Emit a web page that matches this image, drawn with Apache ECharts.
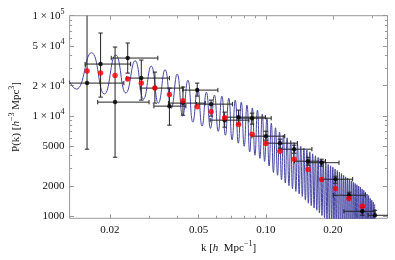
<!DOCTYPE html>
<html><head><meta charset="utf-8">
<script src="https://cdn.jsdelivr.net/npm/echarts@6/dist/echarts.min.js"></script>
<style>html,body{margin:0;padding:0;background:#fff}#c{width:395px;height:260px}</style>
</head><body><div id="c"></div>
<script>
// blue model curve: successive maxima / minima
const curveK = [0.01182,0.01417,0.01652,0.01887,0.02122,0.02357,0.02592,0.02827,0.03062,0.03297,
0.03532,0.03767,0.04002,0.04237,0.04472,0.04707,0.04942,0.05177,0.05412,0.05647,
0.05882,0.06117,0.06352,0.06587,0.06822,0.07057,0.07292,0.07527,0.07762,0.07997,
0.08232,0.08467,0.08702,0.08937,0.09172,0.09407,0.09642,0.09877,0.10112,0.10347,
0.10582,0.10817,0.11052,0.11287,0.11522,0.11757,0.11992,0.12227,0.12462,0.12697,
0.12932,0.13167,0.13402,0.13637,0.13872,0.14107,0.14342,0.14577,0.14812,0.15047,
0.15282,0.15517,0.15752,0.15987,0.16222,0.16457,0.16692,0.16927,0.17162,0.17397,
0.17632,0.17867,0.18102,0.18337,0.18572,0.18807,0.19042,0.19277,0.19512,0.19747,
0.19982,0.20217,0.20452,0.20687,0.20922,0.21157,0.21392,0.21627,0.21862,0.22097,
0.22332,0.22567,0.22802,0.23037,0.23272,0.23507,0.23742,0.23977,0.24212,0.24447,
0.24682,0.24917,0.25152,0.25387,0.25622,0.25857,0.26092,0.26327,0.26562,0.26797,
0.27032,0.27267,0.27502,0.27737,0.27972,0.28207,0.28442,0.28677,0.28912,0.29147,
0.29382,0.29617,0.29852,0.30087,0.30322,0.30557,0.30792];
const curveP = [44000,18500,42700,16500,40500,16900,35500,14700,31400,13400,
28900,11900,26100,9950,22700,8650,18900,7900,17200,7500,
16100,7000,15700,6400,15000,5750,14400,5330,13700,4970,
12800,4350,12000,4040,11400,3760,10400,3510,9550,3150,
8450,2720,7600,2550,6900,2300,6450,2140,6030,2010,
5650,1870,5400,1760,5200,1660,4960,1570,4750,1440,
4550,1340,4370,1270,4180,1200,3990,1140,3840,1070,
3660,1010,3520,960,3380,920,3270,890,3170,860,
3070,830,2950,790,2840,760,2740,730,2650,700,
2550,680,2460,660,2390,640,2310,630,2240,610,
2170,590,2110,575,2050,560,1990,540,1940,530,
1860,515,1800,500,1730,490,1660,475,1600,465,
1500,450,1440,440,1380,430,1310];

// black measurements with error bars
const blackK   = [0.01578,0.01815,0.02108,0.02402,0.02764,0.0318,0.03695,0.0425,0.04924,0.05682,0.06538,0.07542,0.08678,0.1002,0.1157,0.134,0.1546,0.1779,0.2053,0.2362,0.2709,0.3086];
const blackP   = [21230,32890,13710,37760,23820,18920,12500,13400,18070,13090,9057,9705,9484,6266,5333,4645,3524,3404,2328,1611,1114,1016];
const blackPLo = [4645,15380,3864,26730,14360,13400,8072,10160,15740,9931,7709,8260,8260,5715,4753,4236,3214,3141,2123,1503,1016,930];
const blackPHi = [120000,67140,48640,53330,36060,27350,18920,19360,21230,14360,10890,11400,10640,7031,5848,5093,3864,3690,2495,1726,1222,1140];
const blackKLo = [0.0128,0.01546,0.01762,0.02026,0.02378,0.02736,0.03148,0.03658,0.0425,0.0489,0.05626,0.06472,0.0752,0.0866,0.0995,0.1157,0.1344,0.1546,0.1779,0.2006,0.224,0.2876];
const blackKHi = [0.02308,0.02476,0.02994,0.03277,0.03695,0.0425,0.0438,0.05352,0.06094,0.07082,0.08396,0.09954,0.1057,0.1216,0.1385,0.161,0.1852,0.213,0.2452,0.2792,0.3086,0.36];

// red points
const redK = [0.01578,0.01815,0.02108,0.02402,0.02764,0.0318,0.03695,0.0425,0.04924,0.05682,0.06538,0.07542,0.08678,0.1002,0.1157,0.134,0.1546,0.1779,0.2053,0.2362,0.2709];
const redP = [27990,26730,25350,23280,21230,18920,16370,14130,12300,10960,9594,8204,6561,5297,4436,3690,2911,2317,1879,1493,1250];

// ticks
const xMajor = [0.02,0.05,0.1,0.2];
const xLabels = ['0.02','0.05','0.10','0.20'];
const xMinor = [0.03,0.04,0.06,0.07,0.08,0.09,0.3];
const yMajor = [1000,2000,5000,10000,20000,50000,100000];
const yLabels = ['1000','2000','5000','1 × 10^4','2 × 10^4','5 × 10^4','1 × 10^5'];
const yMinor = [3000,4000,6000,7000,8000,9000,30000,40000,60000,70000,80000,90000];

const L = Math.log10;
const xMin = L(0.01318), xMax = L(0.3514);
const yMin = L(948), yMax = L(100000);
const FONT = 'Liberation Serif';
const TXT = '#111';
const FRAME = '#999';

function richLabel(s){
  const p = s.split('^');
  return p.length > 1 ? '{n|' + p[0] + '}{s|' + p[1] + '}' : '{n|' + s + '}';
}
const labelRich = {
  n: {fontFamily: FONT, fontSize: 11, color: TXT, lineHeight: 16},
  s: {fontFamily: FONT, fontSize: 8, color: TXT, lineHeight: 8, verticalAlign: 'top'}
};

function axisBase(min, max, pos){
  return {type: 'value', min: min, max: max, position: pos,
    axisLine: {show: false, onZero: false}, splitLine: {show: false}};
}
function tickAxis(min, max, pos, vals, len){
  const a = axisBase(min, max, pos);
  a.axisTick = {show: true, inside: true, length: len, customValues: vals.map(L), lineStyle: {color: FRAME, width: 1}};
  a.axisLabel = {show: false};
  return a;
}

const xMain = tickAxis(xMin, xMax, 'bottom', xMajor, 4);
xMain.axisLabel = {show: true, margin: 6, customValues: xMajor.map(L),
  formatter: v => { const i = xMajor.findIndex(t => Math.abs(L(t) - v) < 1e-6); return i >= 0 ? xLabels[i] : ''; },
  fontFamily: FONT, fontSize: 11, color: TXT};
xMain.name = '{n|k [}{i|h}{n|  Mpc}{s|−1}{n|]}';
xMain.nameLocation = 'middle';
xMain.nameGap = 22;
xMain.nameTextStyle = {rich: {
  n: {fontFamily: FONT, fontSize: 11, color: TXT, lineHeight: 16},
  i: {fontFamily: FONT, fontSize: 11, color: TXT, lineHeight: 16, fontStyle: 'italic'},
  s: {fontFamily: FONT, fontSize: 8, color: TXT, lineHeight: 8, verticalAlign: 'top'}
}};

const yMain = tickAxis(yMin, yMax, 'left', yMajor, 4.5);
yMain.axisLabel = {show: true, margin: 5, customValues: yMajor.map(L),
  formatter: v => { const i = yMajor.findIndex(t => Math.abs(L(t) - v) < 1e-6); return i >= 0 ? richLabel(yLabels[i]) : ''; },
  rich: labelRich};
yMain.name = '{n|P(k) [}{i|h}{s|−3}{n| Mpc}{s|3}{n|]}';
yMain.nameLocation = 'middle';
yMain.nameGap = 44;
yMain.nameTextStyle = {rich: {
  n: {fontFamily: FONT, fontSize: 11, color: TXT, lineHeight: 16},
  i: {fontFamily: FONT, fontSize: 11, color: TXT, lineHeight: 16, fontStyle: 'italic'},
  s: {fontFamily: FONT, fontSize: 8, color: TXT, lineHeight: 8, verticalAlign: 'top'}
}};

const option = {
  animation: false,
  backgroundColor: '#fff',
  grid: {left: 60, right: 7.5, top: 15.7, bottom: 41.7, show: true, borderColor: FRAME, borderWidth: 1, backgroundColor: 'transparent'},
  xAxis: [
    xMain,
    tickAxis(xMin, xMax, 'bottom', xMinor, 2.5),
    tickAxis(xMin, xMax, 'top', xMajor, 4),
    tickAxis(xMin, xMax, 'top', xMinor, 2.5)
  ],
  yAxis: [
    yMain,
    tickAxis(yMin, yMax, 'left', yMinor, 2.5),
    tickAxis(yMin, yMax, 'right', yMajor, 4.5),
    tickAxis(yMin, yMax, 'right', yMinor, 2.5)
  ],
  series: [
    {
      type: 'line', xAxisIndex: 0, yAxisIndex: 0,
      data: curveK.map((k, i) => [L(k), L(curveP[i])]),
      smooth: 0.5, showSymbol: false, clip: true, z: 1,
      lineStyle: {color: '#4646a2', width: 1}
    },
    {
      type: 'custom', xAxisIndex: 0, yAxisIndex: 0, clip: true, z: 2,
      encode: {x: [0, 2, 3], y: [1, 4, 5]},
      data: blackK.map((k, i) => [L(k), L(blackP[i]), L(blackKLo[i]), L(blackKHi[i]), L(blackPLo[i]), L(blackPHi[i])]),
      renderItem: function (params, api) {
        const x = api.value(0), y = api.value(1);
        const l = api.coord([api.value(2), y]);
        const h = api.coord([api.value(3), y]);
        const b = api.coord([x, api.value(4)]);
        const t = api.coord([x, api.value(5)]);
        const st = {stroke: '#222', lineWidth: 1};
        const c = 2.2;
        const ln = (x1, y1, x2, y2) => ({type: 'line', shape: {x1, y1, x2, y2}, style: st});
        return {type: 'group', children: [
          ln(l[0], l[1], h[0], h[1]),
          ln(l[0], l[1] - c, l[0], l[1] + c),
          ln(h[0], h[1] - c, h[0], h[1] + c),
          ln(b[0], b[1], t[0], t[1]),
          ln(b[0] - c, b[1], b[0] + c, b[1]),
          ln(t[0] - c, t[1], t[0] + c, t[1])
        ]};
      }
    },
    {
      type: 'scatter', xAxisIndex: 0, yAxisIndex: 0, z: 3,
      data: blackK.map((k, i) => [L(k), L(blackP[i])]),
      symbol: 'circle', symbolSize: 4.5, itemStyle: {color: '#000'}
    },
    {
      type: 'scatter', xAxisIndex: 0, yAxisIndex: 0, z: 4,
      data: redK.map((k, i) => [L(k), L(redP[i])]),
      symbol: 'circle', symbolSize: 5.5, itemStyle: {color: '#ff0000'}
    }
  ]
};
const chart = echarts.init(document.getElementById('c'), null, {renderer: 'canvas'});
chart.setOption(option);
</script>
</body></html>
